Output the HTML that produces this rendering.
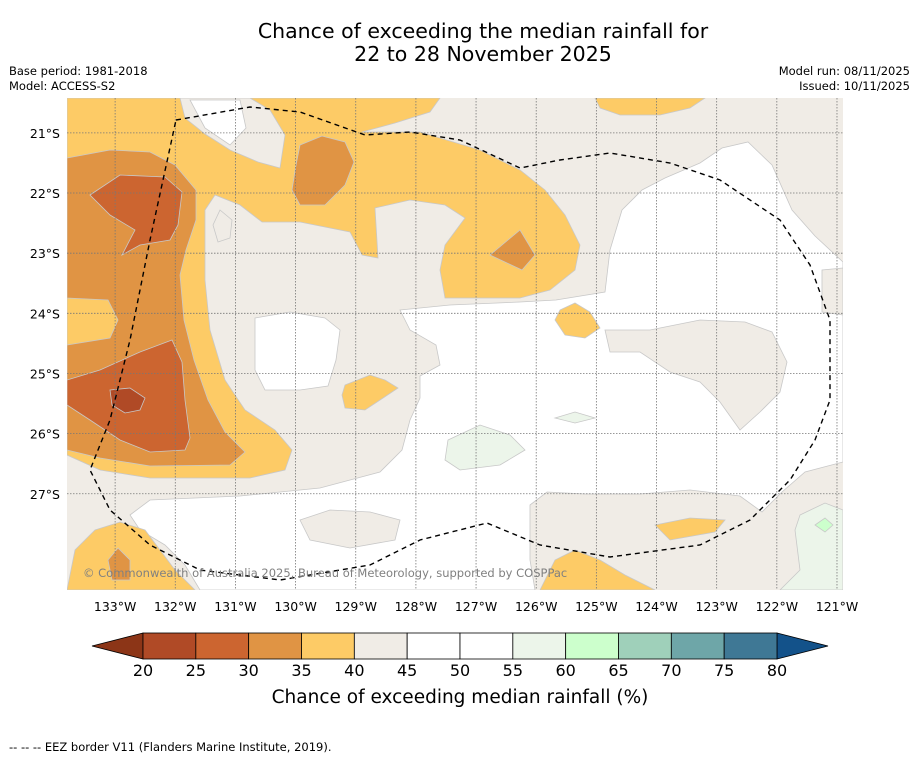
<!DOCTYPE html>
<html><head><meta charset="utf-8">
<style>
html,body{margin:0;padding:0;background:#fff;}
body{width:919px;height:758px;overflow:hidden;font-family:"DejaVu Sans","Liberation Sans",sans-serif;}
</style></head>
<body>
<svg id="fig" width="919" height="758" xmlns="http://www.w3.org/2000/svg" font-family="DejaVu Sans, Liberation Sans, sans-serif">
<text x="483" y="38" font-size="20.5" text-anchor="middle">Chance of exceeding the median rainfall for</text>
<text x="483" y="61" font-size="20.5" text-anchor="middle">22 to 28 November 2025</text>
<text x="9" y="75" font-size="11.5">Base period: 1981-2018</text>
<text x="9" y="90" font-size="11.5">Model: ACCESS-S2</text>
<text x="910" y="75" font-size="11.5" text-anchor="end">Model run: 08/11/2025</text>
<text x="910" y="90" font-size="11.5" text-anchor="end">Issued: 10/11/2025</text>
<defs><clipPath id="mapclip"><rect x="67" y="98" width="776" height="492"/></clipPath></defs>
<g id="map" clip-path="url(#mapclip)"></g>
<g id="axes"></g>
<g id="cbar"></g>
<text x="460" y="703" font-size="18.5" text-anchor="middle">Chance of exceeding median rainfall (%)</text>
<text x="9" y="751" font-size="11.5">--  --  -- EEZ border V11 (Flanders Marine Institute, 2019).</text>
</svg>
<script>
const levels=[20,25,30,35,40,45,50,55,60,65,70,75,80];
const levelColors=["#b04a26","#cc6530","#e09444","#fdcb66","#f0ece6","#ffffff","#ffffff","#ecf5ea","#ccffcc","#9fd0ba","#6ea6a8","#3f7895"];
const lonTicks=[-133,-132,-131,-130,-129,-128,-127,-126,-125,-124,-123,-122,-121];
const latTicks=[-21,-22,-23,-24,-25,-26,-27];
const LON0=-133.8,LON1=-120.9,LAT0=-20.42,LAT1=-28.6;
const X0=67,X1=843,Y0=98,Y1=590;
function xs(lon){return X0+(lon-LON0)/(LON1-LON0)*(X1-X0);}
function ys(lat){return Y0+(lat-LAT0)/(LAT1-LAT0)*(Y1-Y0);}
function ll(px,py){return [LON0+(px-X0)/(X1-X0)*(LON1-LON0),LAT0+(py-Y0)/(Y1-Y0)*(LAT1-LAT0)];}
const raw=[
[5,[[400,310],[450,305],[520,302],[556,300],[605,292],[610,250],[622,210],[642,190],[665,178],[700,163],[722,148],[748,142],[772,165],[792,210],[815,236],[843,262],[843,462],[805,472],[782,492],[762,512],[740,496],[690,490],[640,494],[585,494],[547,492],[530,505],[530,560],[535,590],[200,590],[185,565],[165,545],[140,530],[130,515],[150,500],[240,496],[320,488],[380,472],[402,450],[410,420],[420,398],[420,376],[440,365],[436,345],[410,330]]],
[5,[[255,318],[290,312],[325,318],[340,330],[336,360],[328,386],[300,390],[265,390],[255,370]]],
[4,[[300,520],[330,510],[370,512],[400,520],[395,540],[350,548],[310,540]]],
[4,[[650,330],[700,320],[745,322],[772,332],[787,362],[780,392],[760,412],[740,430],[720,402],[700,382],[670,372],[640,352],[610,352],[605,330]]],
[4,[[843,268],[822,270],[822,312],[843,315]]],
[3,[[67,98],[245,98],[440,98],[430,112],[395,123],[362,132],[420,132],[480,150],[520,170],[545,190],[565,215],[580,245],[575,270],[550,290],[520,298],[445,298],[440,270],[445,245],[465,218],[445,205],[410,200],[375,208],[378,258],[362,255],[350,232],[300,222],[262,222],[240,205],[215,195],[205,210],[205,280],[210,330],[225,380],[245,410],[275,430],[292,450],[285,470],[250,478],[150,478],[100,470],[67,455]]],
[4,[[180,98],[250,98],[270,110],[285,135],[280,168],[258,162],[230,150],[205,134],[185,118]]],
[5,[[190,100],[240,100],[246,128],[230,145],[205,128]]],
[4,[[220,210],[232,220],[230,238],[218,242],[213,225]]],
[3,[[595,98],[705,98],[690,108],[660,115],[620,115],[600,108]]],
[3,[[560,310],[575,303],[590,312],[600,328],[585,338],[565,335],[555,320]]],
[3,[[345,385],[370,375],[385,380],[398,388],[380,400],[365,410],[345,408],[342,395]]],
[3,[[655,525],[690,518],[725,520],[715,532],[670,540]]],
[3,[[67,590],[75,550],[95,530],[120,522],[145,530],[160,550],[175,570],[195,590]]],
[3,[[540,590],[555,560],[575,550],[600,560],[625,575],[655,590]]],
[2,[[67,158],[110,150],[150,152],[175,165],[196,190],[196,220],[186,250],[180,275],[184,320],[194,360],[208,400],[225,432],[245,452],[230,465],[150,466],[100,458],[67,450],[67,345],[110,338],[118,320],[108,300],[67,298]]],
[2,[[300,145],[322,136],[345,142],[354,162],[345,185],[325,205],[300,205],[292,190],[296,165]]],
[2,[[490,255],[520,230],[535,255],[522,270]]],
[2,[[108,560],[118,548],[130,560],[130,580],[112,580]]],
[1,[[90,195],[120,175],[165,177],[182,192],[178,225],[170,240],[140,245],[122,255],[135,230],[110,215]]],
[1,[[67,380],[100,370],[140,352],[172,340],[182,362],[185,400],[190,438],[185,450],[150,452],[120,440],[90,420],[67,405]]],
[0,[[110,390],[130,388],[145,398],[140,410],[125,413],[112,405]]],
[7,[[448,440],[480,425],[510,435],[525,450],[500,465],[460,470],[445,460]]],
[7,[[555,418],[575,412],[595,418],[575,423]]],
[7,[[800,515],[825,503],[843,510],[843,590],[780,590],[800,570],[795,530]]],
[8,[[815,525],[825,518],[833,525],[825,532]]]
];
const contours=raw.map(r=>[r[0],r[1].map(p=>ll(p[0],p[1]))]);
const eezRaw=[[176,120],[250,107],[300,112],[365,135],[410,132],[460,140],[520,168],[560,160],[610,153],[670,163],[720,180],[780,220],[810,265],[830,320],[830,400],[815,440],[790,480],[750,520],[700,545],[610,557],[540,545],[487,523],[420,540],[370,565],[280,580],[200,570],[150,545],[110,510],[90,470],[110,420],[130,340],[150,240],[176,120]];
const eez=eezRaw.map(p=>ll(p[0],p[1]));
const NS="http://www.w3.org/2000/svg";
function mk(tag,attrs,parent){const e=document.createElementNS(NS,tag);for(const k in attrs)e.setAttribute(k,attrs[k]);parent.appendChild(e);return e;}
const map=document.getElementById('map');
const bg=mk('rect',{x:X0,y:Y0,width:X1-X0,height:Y1-Y0,fill:levelColors[4]},map);


contours.forEach((c,i)=>{
  const d='M'+c[1].map(p=>xs(p[0]).toFixed(1)+','+ys(p[1]).toFixed(1)).join('L')+'Z';
  const p=mk('path',{d:d,fill:levelColors[c[0]],stroke:'#c8c8c8','stroke-width':0.8},map);
  
  
});
const ax=document.getElementById('axes');
lonTicks.forEach(l=>{
  const x=xs(l);
  const g=mk('line',{x1:x,y1:Y0,x2:x,y2:Y1,stroke:'#777','stroke-width':0.8,'stroke-dasharray':'1.5,1.5'},ax);
  
  
  const t=mk('text',{x:x,y:611,'font-size':12.5,'text-anchor':'middle'},ax);
  t.textContent=Math.abs(l)+'°W';
  
  
});
latTicks.forEach(l=>{
  const y=ys(l);
  const g=mk('line',{x1:X0,y1:y,x2:X1,y2:y,stroke:'#777','stroke-width':0.8,'stroke-dasharray':'1.5,1.5'},ax);
  
  
  const t=mk('text',{x:60,y:y+5,'font-size':12.5,'text-anchor':'end'},ax);
  t.textContent=Math.abs(l)+'°S';
  
  
});
const ez=mk('path',{d:'M'+eez.map(p=>xs(p[0]).toFixed(1)+','+ys(p[1]).toFixed(1)).join('L'),fill:'none',stroke:'#000','stroke-width':1.4,'stroke-dasharray':'5,4','clip-path':'url(#mapclip)'},ax);


const cp=mk('text',{x:83,y:577,'font-size':11.5,fill:'#808080'},ax);
cp.textContent='© Commonwealth of Australia 2025, Bureau of Meteorology, supported by COSPPac';


const cb=document.getElementById('cbar');
const CB0=143,CB1=777,CY=633,CH=26;
function cx(v){return CB0+(v-levels[0])/(levels[levels.length-1]-levels[0])*(CB1-CB0);}
const lt=mk('polygon',{points:`${cx(20)},${CY} 92,${CY+CH/2} ${cx(20)},${CY+CH}`,fill:'#8c3517',stroke:'#000','stroke-width':0.8},cb);


const rt=mk('polygon',{points:`${cx(80)},${CY} 828,${CY+CH/2} ${cx(80)},${CY+CH}`,fill:'#13528a',stroke:'#000','stroke-width':0.8},cb);


levelColors.forEach((c,i)=>{
  const r=mk('rect',{x:cx(levels[i]),y:CY,width:cx(levels[i+1])-cx(levels[i]),height:CH,fill:c,stroke:'#000','stroke-width':0.8},cb);
  
  
});
levels.forEach(v=>{
  const t=mk('text',{x:cx(v),y:676,'font-size':16,'text-anchor':'middle'},cb);
  t.textContent=v;
  
  
});
</script>
</body></html>
